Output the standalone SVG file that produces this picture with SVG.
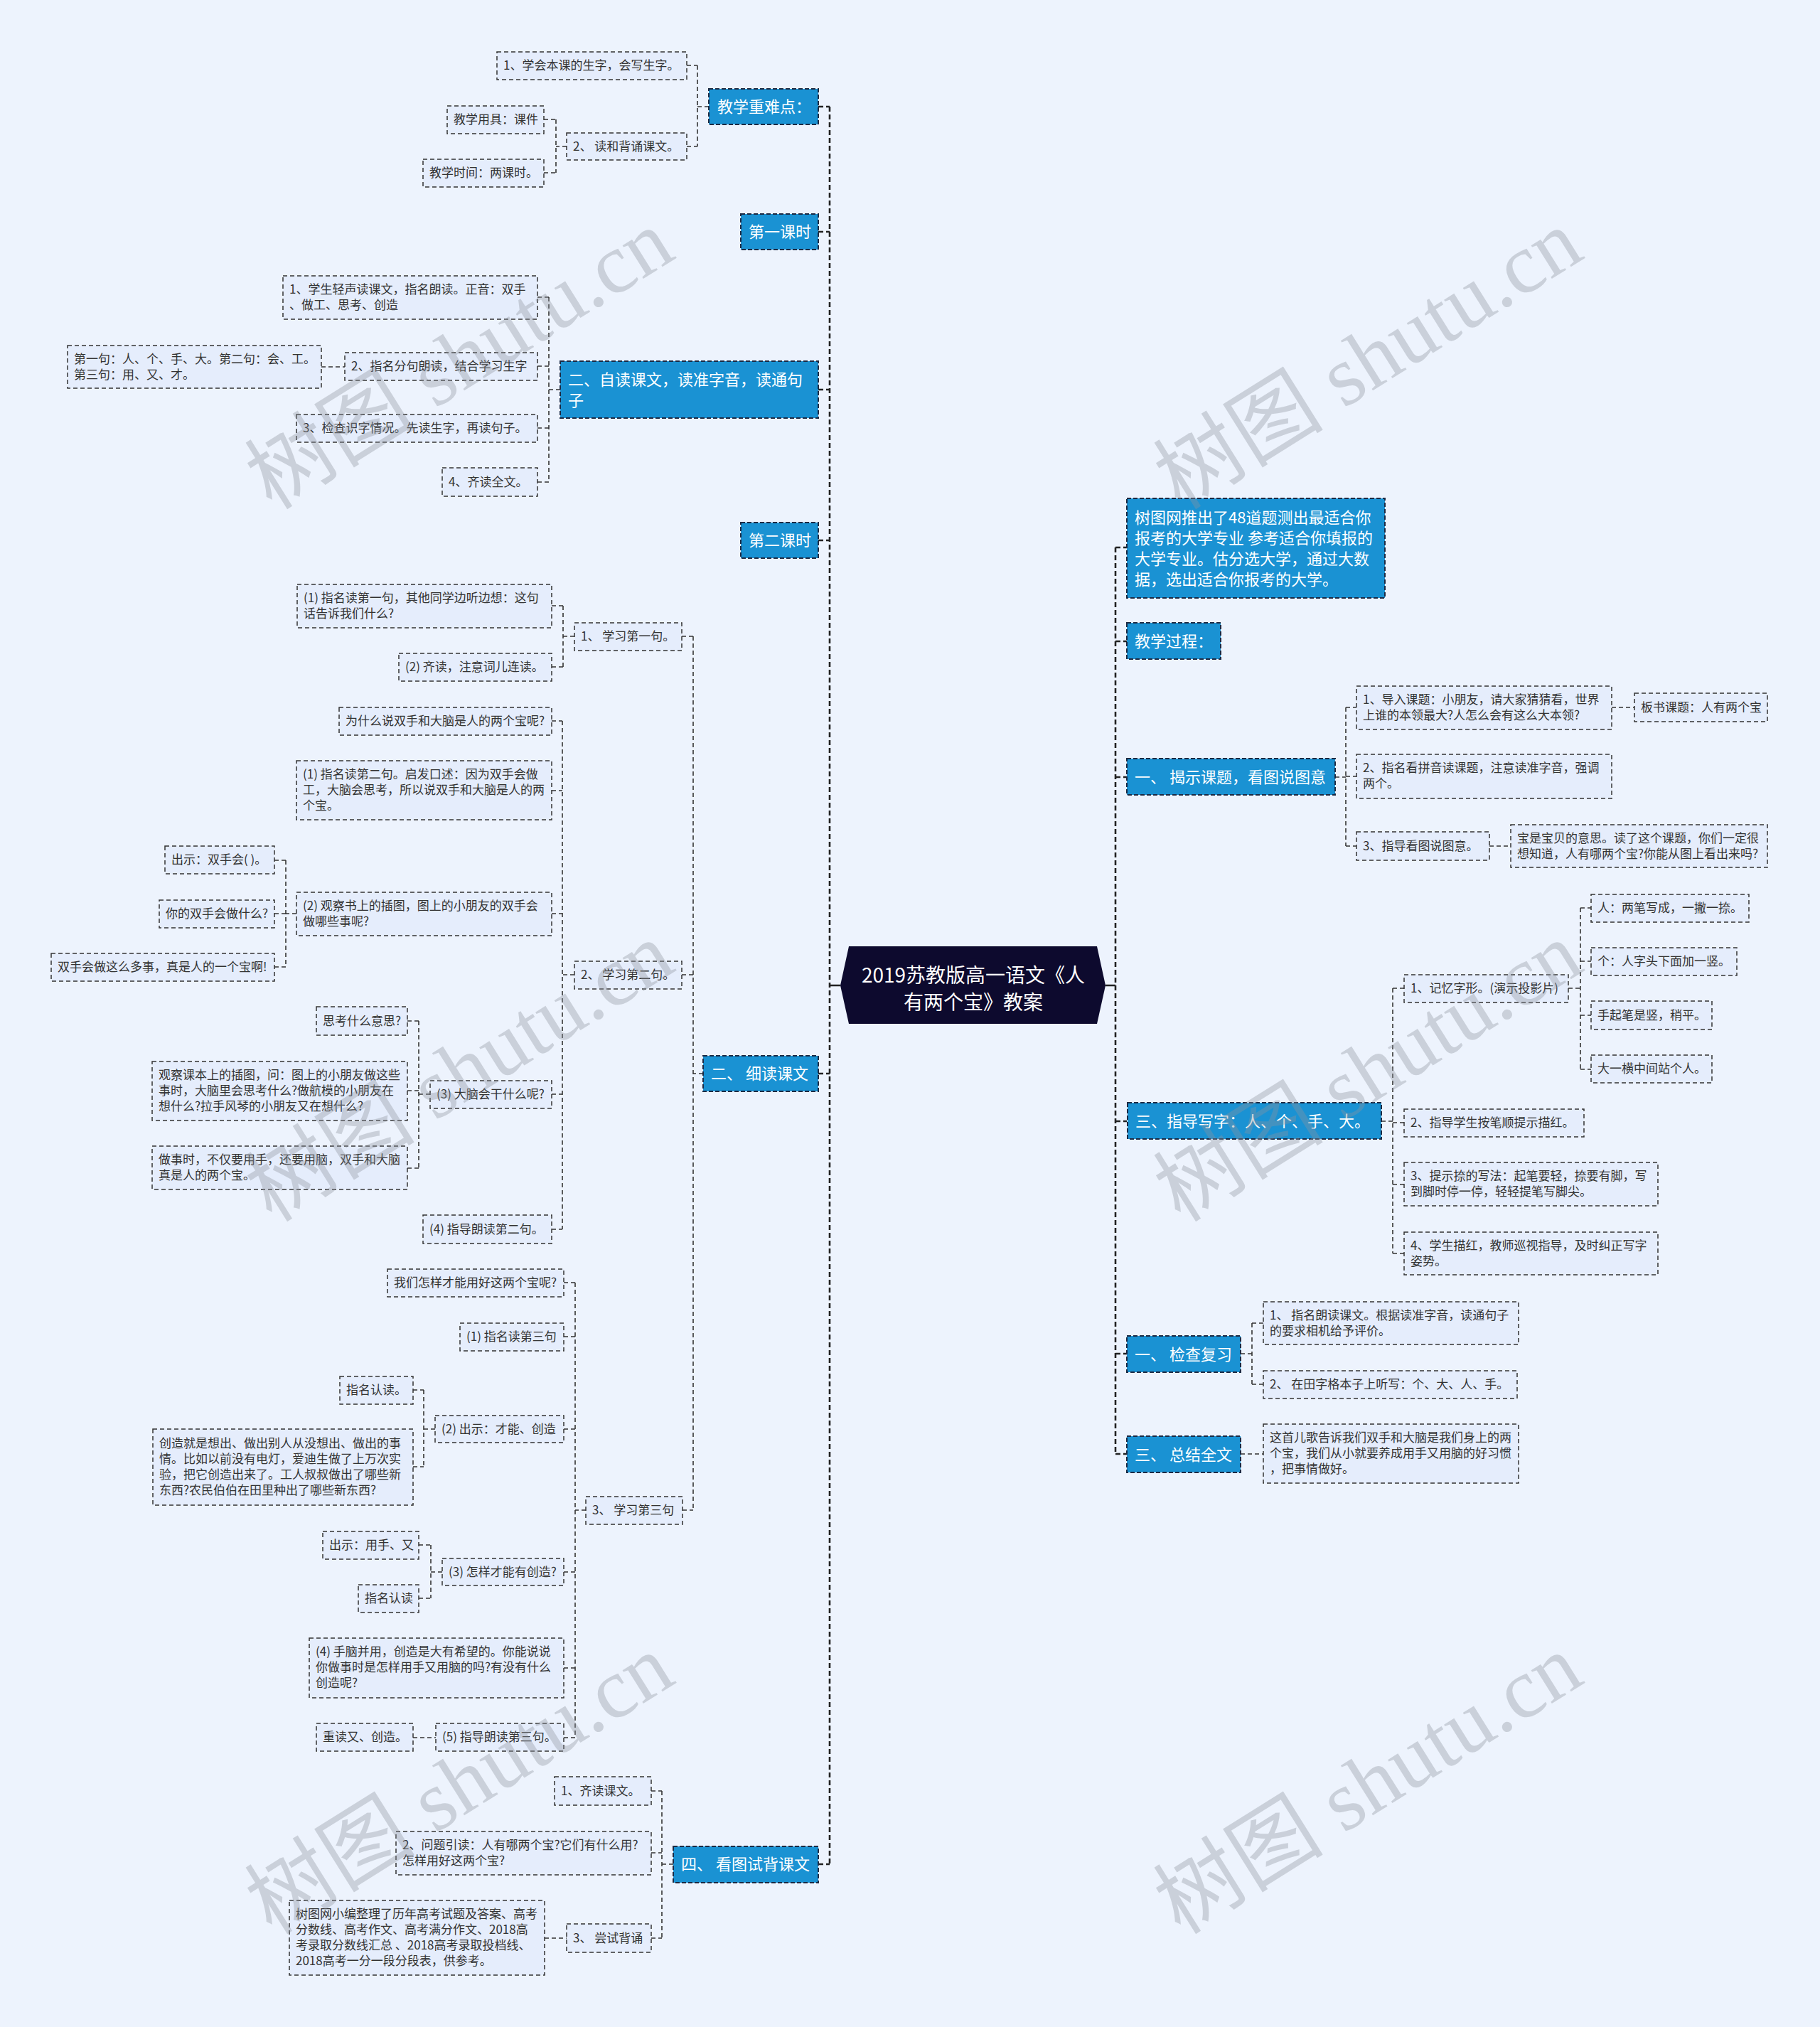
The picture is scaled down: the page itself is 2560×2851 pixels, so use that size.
<svg xmlns="http://www.w3.org/2000/svg" width="2560" height="2851" viewBox="0 0 2560 2851">
<style>
.n{fill:#E5EDFC;stroke:#333;stroke-width:1.5;stroke-dasharray:6 4}
.t{font-family:"Noto Sans CJK SC","Liberation Sans",sans-serif;font-size:17px;fill:#333}
.b{fill:#1A92D3;stroke:#1B2A44;stroke-width:2;stroke-dasharray:6 3}
.bt{font-family:"Noto Sans CJK SC","Liberation Sans",sans-serif;font-size:22px;fill:#fff}
.c{fill:none;stroke:#333;stroke-width:1.6;stroke-dasharray:6 4}
.tr{fill:none;stroke:#222;stroke-width:2.6;stroke-dasharray:7 4}
.s{fill:none;stroke:#222;stroke-width:2.6}
.wm{font-family:"Liberation Serif","Noto Sans CJK SC",serif;font-size:120px;fill:#8E949E;opacity:0.36}
</style>
<rect width="2560" height="2851" fill="#EDF3FD"/>
<g id="connectors">
<path class="tr" d="M1167,150V2622M1151,150H1167M1151,326H1167M1151,548H1167M1151,760H1167M1151,1510H1167M1151,2622H1167"/>
<path class="s" d="M1182,1386H1167M1555,1386H1569"/>
<path class="tr" d="M1569,770V2045M1569,770H1585M1569,902H1585M1569,1093H1585M1569,1577H1585M1569,1904H1585M1569,2045H1585"/>
<path class="c" d="M997,150H981M981,92V206M966,92H981M966,206H981M797,206H782M782,168V243M765,168H782M765,243H782"/>
<path class="c" d="M788,548H772M772,418V678M756,418H772M756,515H772M756,602H772M756,678H772M452,516H485"/>
<path class="c" d="M989,1510H975M975,895V2124M959,895H975M959,1371H975M960,2124H975"/>
<path class="c" d="M808,895H792M792,852V938M776,852H792M776,938H792"/>
<path class="c" d="M808,1371H791M791,1014V1729M776,1014H791M776,1112H791M776,1285H791M776,1539H791M776,1729H791"/>
<path class="c" d="M417,1285H402M402,1210V1360M386,1210H402M386,1285H402M386,1360H402"/>
<path class="c" d="M605,1539H589M589,1436V1643M573,1436H589M573,1534H589M573,1643H589"/>
<path class="c" d="M824,2124H809M809,1804V2444M793,1804H809M793,1880H809M793,2010H809M793,2211H809M793,2346H809M793,2444H809"/>
<path class="c" d="M612,2010H596M596,1955V2063M581,1955H596M581,2063H596M622,2211H606M606,2173V2248M589,2173H606M589,2248H606M581,2444H613"/>
<path class="c" d="M947,2622H931M931,2519V2726M916,2519H931M916,2606H931M916,2726H931M766,2726H797"/>
<path class="c" d="M1878,1093H1893M1893,995V1190M1893,995H1908M1893,1092H1908M1893,1190H1908M2267,995H2299M2095,1190H2125"/>
<path class="c" d="M1943,1577H1959M1959,1390V1763M1959,1390H1975M1959,1579H1975M1959,1666H1975M1959,1763H1975M2206,1390H2223M2223,1277V1504M2223,1277H2238M2223,1352H2238M2223,1428H2238M2223,1504H2238"/>
<path class="c" d="M1745,1904H1761M1761,1861V1947M1761,1861H1777M1761,1947H1777M1745,2045H1777"/>
</g>
<g id="root">
<polygon points="1194,1331 1543,1331 1555,1386 1543,1440 1194,1440 1182,1386" fill="#0D0A2E"/>
<text x="1369" y="1382" text-anchor="middle" font-family="Noto Sans CJK SC,Liberation Sans,sans-serif" font-size="28" fill="#fff">2019苏教版高一语文《人</text>
<text x="1369" y="1420" text-anchor="middle" font-family="Noto Sans CJK SC,Liberation Sans,sans-serif" font-size="28" fill="#fff">有两个宝》教案</text>
</g>
<g id="L1"><rect class="b" x="997" y="125" width="154" height="50"/><text class="bt" x="1009" y="158">教学重难点：</text></g>
<g id="L1a"><rect class="n" x="699" y="73" width="267" height="39"/><text class="t" x="708" y="98">1、学会本课的生字，会写生字。</text></g>
<g id="L1b"><rect class="n" x="797" y="187" width="169" height="38"/><text class="t" x="806" y="212">2、 读和背诵课文。</text></g>
<g id="L1b1"><rect class="n" x="629" y="149" width="136" height="39"/><text class="t" x="638" y="174">教学用具：课件</text></g>
<g id="L1b2"><rect class="n" x="595" y="224" width="170" height="39"/><text class="t" x="604" y="249">教学时间：两课时。</text></g>
<g id="L2"><rect class="b" x="1042" y="301" width="109" height="50"/><text class="bt" x="1053" y="334">第一课时</text></g>
<g id="L3"><rect class="b" x="788" y="508" width="363" height="80"/><text class="bt" x="799" y="542">二、自读课文，读准字音，读通句</text><text class="bt" x="799" y="571">子</text></g>
<g id="L3a"><rect class="n" x="398" y="388" width="358" height="61"/><text class="t" x="407" y="413">1、学生轻声读课文，指名朗读。正音：双手</text><text class="t" x="407" y="435">、做工、思考、创造</text></g>
<g id="L3b"><rect class="n" x="485" y="496" width="271" height="39"/><text class="t" x="494" y="521">2、指名分句朗读，结合学习生字</text></g>
<g id="L3b1"><rect class="n" x="95" y="486" width="357" height="60"/><text class="t" x="104" y="511">第一句：人、个、手、大。第二句：会、工。</text><text class="t" x="104" y="533">第三句：用、又、才。</text></g>
<g id="L3c"><rect class="n" x="417" y="583" width="339" height="39"/><text class="t" x="426" y="608">3、检查识字情况。先读生字，再读句子。</text></g>
<g id="L3d"><rect class="n" x="622" y="658" width="134" height="40"/><text class="t" x="631" y="684">4、齐读全文。</text></g>
<g id="L4"><rect class="b" x="1042" y="735" width="109" height="50"/><text class="bt" x="1053" y="768">第二课时</text></g>
<g id="L5"><rect class="b" x="989" y="1485" width="162" height="50"/><text class="bt" x="1000" y="1518">二、 细读课文</text></g>
<g id="L5a"><rect class="n" x="808" y="876" width="151" height="39"/><text class="t" x="817" y="901">1、 学习第一句。</text></g>
<g id="L5a1"><rect class="n" x="418" y="822" width="358" height="61"/><text class="t" x="427" y="847">(1) 指名读第一句，其他同学边听边想：这句</text><text class="t" x="427" y="869">话告诉我们什么?</text></g>
<g id="L5a2"><rect class="n" x="561" y="919" width="215" height="39"/><text class="t" x="570" y="944">(2) 齐读，注意词儿连读。</text></g>
<g id="L5b"><rect class="n" x="808" y="1352" width="151" height="39"/><text class="t" x="817" y="1377">2、 学习第二句。</text></g>
<g id="L5b1"><rect class="n" x="477" y="995" width="299" height="39"/><text class="t" x="486" y="1020">为什么说双手和大脑是人的两个宝呢?</text></g>
<g id="L5b2"><rect class="n" x="417" y="1070" width="359" height="83"/><text class="t" x="426" y="1095">(1) 指名读第二句。启发口述：因为双手会做</text><text class="t" x="426" y="1117">工，大脑会思考，所以说双手和大脑是人的两</text><text class="t" x="426" y="1139">个宝。</text></g>
<g id="L5b3"><rect class="n" x="417" y="1255" width="359" height="61"/><text class="t" x="426" y="1280">(2) 观察书上的插图，图上的小朋友的双手会</text><text class="t" x="426" y="1302">做哪些事呢?</text></g>
<g id="L5b3a"><rect class="n" x="232" y="1190" width="154" height="39"/><text class="t" x="241" y="1215">出示：双手会( )。</text></g>
<g id="L5b3b"><rect class="n" x="224" y="1266" width="162" height="39"/><text class="t" x="233" y="1291">你的双手会做什么?</text></g>
<g id="L5b3c"><rect class="n" x="72" y="1341" width="314" height="39"/><text class="t" x="81" y="1366">双手会做这么多事，真是人的一个宝啊!</text></g>
<g id="L5b4"><rect class="n" x="605" y="1520" width="171" height="39"/><text class="t" x="614" y="1545">(3) 大脑会干什么呢?</text></g>
<g id="L5b4a"><rect class="n" x="445" y="1416" width="128" height="40"/><text class="t" x="454" y="1442">思考什么意思?</text></g>
<g id="L5b4b"><rect class="n" x="214" y="1493" width="359" height="83"/><text class="t" x="223" y="1518">观察课本上的插图，问：图上的小朋友做这些</text><text class="t" x="223" y="1540">事时，大脑里会思考什么?做航模的小朋友在</text><text class="t" x="223" y="1562">想什么?拉手风琴的小朋友又在想什么?</text></g>
<g id="L5b4c"><rect class="n" x="214" y="1612" width="359" height="61"/><text class="t" x="223" y="1637">做事时，不仅要用手，还要用脑，双手和大脑</text><text class="t" x="223" y="1659">真是人的两个宝。</text></g>
<g id="L5b5"><rect class="n" x="595" y="1709" width="181" height="40"/><text class="t" x="604" y="1735">(4) 指导朗读第二句。</text></g>
<g id="L5c"><rect class="n" x="824" y="2105" width="136" height="39"/><text class="t" x="833" y="2130">3、 学习第三句</text></g>
<g id="L5c1"><rect class="n" x="545" y="1785" width="248" height="39"/><text class="t" x="554" y="1810">我们怎样才能用好这两个宝呢?</text></g>
<g id="L5c2"><rect class="n" x="647" y="1861" width="146" height="39"/><text class="t" x="656" y="1886">(1) 指名读第三句</text></g>
<g id="L5c3"><rect class="n" x="612" y="1991" width="181" height="38"/><text class="t" x="621" y="2016">(2) 出示：才能、创造</text></g>
<g id="L5c3a"><rect class="n" x="478" y="1936" width="103" height="39"/><text class="t" x="487" y="1961">指名认读。</text></g>
<g id="L5c3b"><rect class="n" x="215" y="2010" width="366" height="107"/><text class="t" x="224" y="2036">创造就是想出、做出别人从没想出、做出的事</text><text class="t" x="224" y="2058">情。比如以前没有电灯，爱迪生做了上万次实</text><text class="t" x="224" y="2080">验，把它创造出来了。工人叔叔做出了哪些新</text><text class="t" x="224" y="2102">东西?农民伯伯在田里种出了哪些新东西?</text></g>
<g id="L5c4"><rect class="n" x="622" y="2192" width="171" height="38"/><text class="t" x="631" y="2217">(3) 怎样才能有创造?</text></g>
<g id="L5c4a"><rect class="n" x="454" y="2154" width="135" height="39"/><text class="t" x="463" y="2179">出示：用手、又</text></g>
<g id="L5c4b"><rect class="n" x="504" y="2229" width="85" height="39"/><text class="t" x="513" y="2254">指名认读</text></g>
<g id="L5c5"><rect class="n" x="435" y="2304" width="358" height="84"/><text class="t" x="444" y="2329">(4) 手脑并用，创造是大有希望的。你能说说</text><text class="t" x="444" y="2351">你做事时是怎样用手又用脑的吗?有没有什么</text><text class="t" x="444" y="2373">创造呢?</text></g>
<g id="L5c6"><rect class="n" x="613" y="2424" width="180" height="39"/><text class="t" x="622" y="2449">(5) 指导朗读第三句。</text></g>
<g id="L5c6a"><rect class="n" x="445" y="2424" width="136" height="39"/><text class="t" x="454" y="2449">重读又、创造。</text></g>
<g id="L6"><rect class="b" x="947" y="2597" width="204" height="51"/><text class="bt" x="958" y="2630">四、 看图试背课文</text></g>
<g id="L6a"><rect class="n" x="780" y="2499" width="136" height="40"/><text class="t" x="789" y="2525">1、齐读课文。</text></g>
<g id="L6b"><rect class="n" x="557" y="2576" width="359" height="61"/><text class="t" x="566" y="2601">2、问题引读：人有哪两个宝?它们有什么用?</text><text class="t" x="566" y="2623">怎样用好这两个宝?</text></g>
<g id="L6c"><rect class="n" x="797" y="2706" width="119" height="40"/><text class="t" x="806" y="2732">3、 尝试背诵</text></g>
<g id="L6c1"><rect class="n" x="407" y="2673" width="359" height="105"/><text class="t" x="416" y="2698">树图网小编整理了历年高考试题及答案、高考</text><text class="t" x="416" y="2720">分数线、高考作文、高考满分作文、2018高</text><text class="t" x="416" y="2742">考录取分数线汇总 、2018高考录取投档线、</text><text class="t" x="416" y="2764">2018高考一分一段分段表，供参考。</text></g>
<g id="R1"><rect class="b" x="1585" y="701" width="363" height="140"/><text class="bt" x="1596" y="736">树图网推出了48道题测出最适合你</text><text class="bt" x="1596" y="765">报考的大学专业 参考适合你填报的</text><text class="bt" x="1596" y="794">大学专业。估分选大学，通过大数</text><text class="bt" x="1596" y="823">据，选出适合你报考的大学。</text></g>
<g id="R2"><rect class="b" x="1585" y="876" width="132" height="51"/><text class="bt" x="1596" y="910">教学过程：</text></g>
<g id="R3"><rect class="b" x="1585" y="1067" width="293" height="51"/><text class="bt" x="1596" y="1101">一、 揭示课题，看图说图意</text></g>
<g id="R3a"><rect class="n" x="1908" y="965" width="359" height="61"/><text class="t" x="1917" y="990">1、导入课题：小朋友，请大家猜猜看，世界</text><text class="t" x="1917" y="1012">上谁的本领最大?人怎么会有这么大本领?</text></g>
<g id="R3a1"><rect class="n" x="2299" y="975" width="187" height="40"/><text class="t" x="2308" y="1001">板书课题：人有两个宝</text></g>
<g id="R3b"><rect class="n" x="1908" y="1061" width="359" height="62"/><text class="t" x="1917" y="1086">2、指名看拼音读课题，注意读准字音，强调</text><text class="t" x="1917" y="1108">两个。</text></g>
<g id="R3c"><rect class="n" x="1908" y="1170" width="187" height="40"/><text class="t" x="1917" y="1196">3、指导看图说图意。</text></g>
<g id="R3c1"><rect class="n" x="2125" y="1160" width="361" height="60"/><text class="t" x="2134" y="1185">宝是宝贝的意思。读了这个课题，你们一定很</text><text class="t" x="2134" y="1207">想知道，人有哪两个宝?你能从图上看出来吗?</text></g>
<g id="R4"><rect class="b" x="1586" y="1551" width="357" height="51"/><text class="bt" x="1597" y="1585">三、指导写字：人、个、手、大。</text></g>
<g id="R4a"><rect class="n" x="1975" y="1371" width="231" height="39"/><text class="t" x="1984" y="1396">1、记忆字形。(演示投影片)</text></g>
<g id="R4a1"><rect class="n" x="2238" y="1258" width="222" height="39"/><text class="t" x="2247" y="1283">人：两笔写成，一撇一捺。</text></g>
<g id="R4a2"><rect class="n" x="2238" y="1333" width="205" height="39"/><text class="t" x="2247" y="1358">个：人字头下面加一竖。</text></g>
<g id="R4a3"><rect class="n" x="2238" y="1408" width="170" height="40"/><text class="t" x="2247" y="1434">手起笔是竖，稍平。</text></g>
<g id="R4a4"><rect class="n" x="2238" y="1484" width="170" height="39"/><text class="t" x="2247" y="1509">大一横中间站个人。</text></g>
<g id="R4b"><rect class="n" x="1975" y="1560" width="253" height="39"/><text class="t" x="1984" y="1585">2、指导学生按笔顺提示描红。</text></g>
<g id="R4c"><rect class="n" x="1975" y="1635" width="357" height="61"/><text class="t" x="1984" y="1660">3、提示捺的写法：起笔要轻，捺要有脚，写</text><text class="t" x="1984" y="1682">到脚时停一停，轻轻提笔写脚尖。</text></g>
<g id="R4d"><rect class="n" x="1975" y="1733" width="357" height="60"/><text class="t" x="1984" y="1758">4、学生描红，教师巡视指导，及时纠正写字</text><text class="t" x="1984" y="1780">姿势。</text></g>
<g id="R5"><rect class="b" x="1585" y="1879" width="160" height="51"/><text class="bt" x="1596" y="1913">一、 检查复习</text></g>
<g id="R5a"><rect class="n" x="1777" y="1831" width="359" height="60"/><text class="t" x="1786" y="1856">1、 指名朗读课文。根据读准字音，读通句子</text><text class="t" x="1786" y="1878">的要求相机给予评价。</text></g>
<g id="R5b"><rect class="n" x="1777" y="1928" width="357" height="39"/><text class="t" x="1786" y="1953">2、 在田字格本子上听写：个、大、人、手。</text></g>
<g id="R6"><rect class="b" x="1585" y="2020" width="160" height="51"/><text class="bt" x="1596" y="2054">三、 总结全文</text></g>
<g id="R6a"><rect class="n" x="1777" y="2003" width="359" height="83"/><text class="t" x="1786" y="2028">这首儿歌告诉我们双手和大脑是我们身上的两</text><text class="t" x="1786" y="2050">个宝，我们从小就要养成用手又用脑的好习惯</text><text class="t" x="1786" y="2072">，把事情做好。</text></g>
<g id="watermarks">
<text class="wm" text-anchor="middle" transform="translate(668,540) rotate(-32)">树图 shutu.cn</text>
<text class="wm" text-anchor="middle" transform="translate(1946,540) rotate(-32)">树图 shutu.cn</text>
<text class="wm" text-anchor="middle" transform="translate(668,1542) rotate(-32)">树图 shutu.cn</text>
<text class="wm" text-anchor="middle" transform="translate(1946,1542) rotate(-32)">树图 shutu.cn</text>
<text class="wm" text-anchor="middle" transform="translate(668,2544) rotate(-32)">树图 shutu.cn</text>
<text class="wm" text-anchor="middle" transform="translate(1946,2544) rotate(-32)">树图 shutu.cn</text>
</g>
</svg>
